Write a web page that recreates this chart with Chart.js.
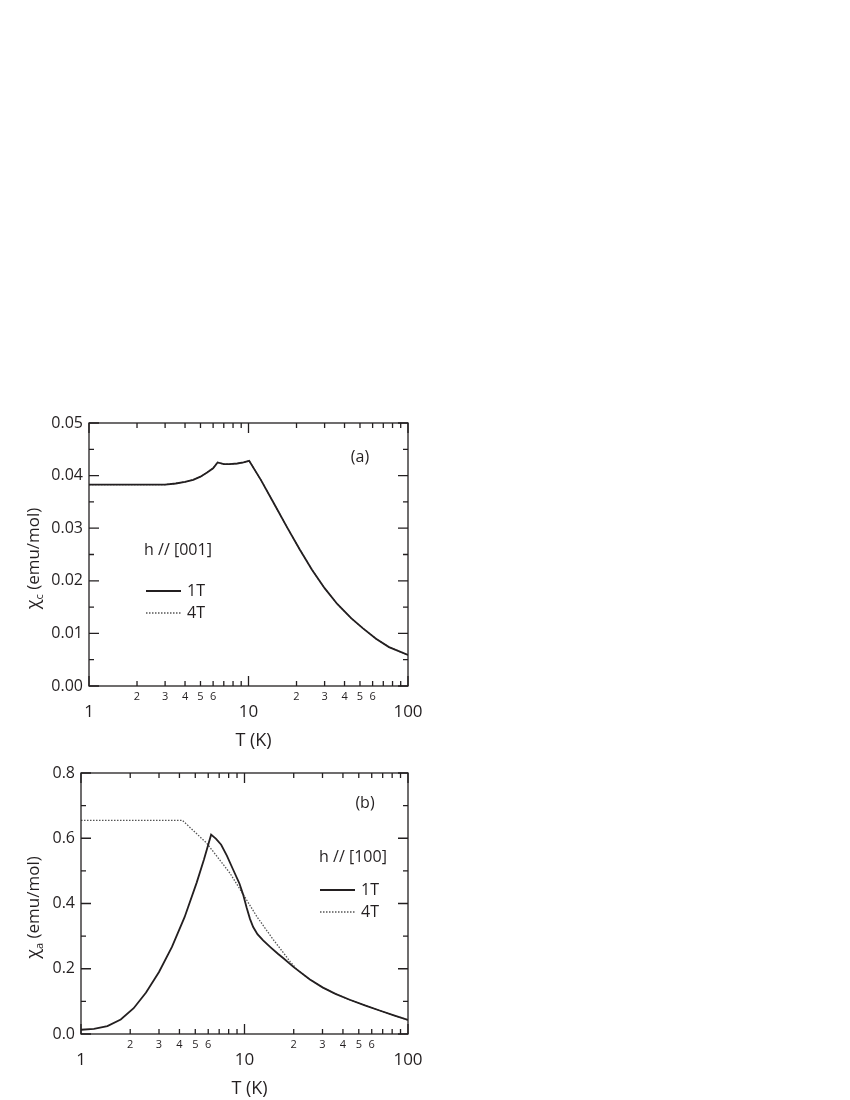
<!DOCTYPE html>
<html>
<head>
<meta charset="utf-8">
<title>chi vs T</title>
<script src="https://cdn.jsdelivr.net/npm/chart.js@4/dist/chart.umd.min.js"></script>
<style>
    body { margin: 0; background: #fff; }
    #wrap { position: relative; width: 850px; height: 1100px; }
    canvas { position: absolute; left: 0; }
    #chartA { top: 400px; }
    #chartB { top: 750px; }
</style>
</head>
<body>
<div id="wrap">
    <canvas id="chartA" width="450" height="350"></canvas>
    <canvas id="chartB" width="450" height="350"></canvas>
</div>
<script>
// panel (a), h // [001]
const tempA = [1, 3, 3.5, 4, 4.5, 5, 5.5, 6, 6.4, 7, 7.6, 8.5, 9.3, 10.1, 12, 14.5, 17.5, 21, 25, 30, 36, 44, 52, 63, 76, 100];
const chiA1T = [0.0383, 0.0383, 0.0385, 0.0388, 0.0392, 0.0398, 0.0406, 0.0414, 0.0425, 0.0422, 0.0422, 0.0423, 0.0425, 0.0428, 0.0391, 0.0346, 0.0301, 0.0259, 0.0221, 0.0186, 0.0156, 0.0129, 0.0110, 0.0090, 0.0074, 0.0059];
// 4T lies on top of 1T in (a)
const chiA4T = [0.0383, 0.0383, 0.0385, 0.0388, 0.0392, 0.0398, 0.0406, 0.0414, 0.0425, 0.0422, 0.0422, 0.0423, 0.0425, 0.0428, 0.0391, 0.0346, 0.0301, 0.0259, 0.0221, 0.0186, 0.0156, 0.0129, 0.0110, 0.0090, 0.0074, 0.0059];

// panel (b), h // [100]
const tempB1T = [1, 1.2, 1.45, 1.75, 2.1, 2.5, 3.0, 3.6, 4.3, 5.1, 5.65, 6.25, 6.7, 7.2, 7.8, 8.5, 9.3, 9.8, 10.3, 10.8, 11.3, 12, 13, 14.5, 16, 17.3, 20, 25, 30, 36, 44, 55, 67, 82, 100];
const chiB1T = [0.013, 0.0154, 0.0244, 0.0444, 0.079, 0.127, 0.190, 0.267, 0.358, 0.464, 0.535, 0.611, 0.598, 0.580, 0.547, 0.505, 0.462, 0.428, 0.388, 0.353, 0.328, 0.306, 0.287, 0.265, 0.246, 0.232, 0.205, 0.168, 0.143, 0.123, 0.105, 0.087, 0.072, 0.057, 0.043];
const tempB4T = [1, 4.17, 5.87, 8.15, 9.84, 11.9, 15.0, 17, 19, 21, 25, 30, 36, 44, 55, 67, 82, 100];
const chiB4T = [0.655, 0.655, 0.585, 0.493, 0.427, 0.360, 0.289, 0.254, 0.222, 0.197, 0.168, 0.143, 0.123, 0.105, 0.087, 0.072, 0.057, 0.043];

// ticks
const xMajorTicks = [1, 10, 100];
const xMajorLabels = ["1", "10", "100"];
const xMinorTicks = [2, 3, 4, 5, 6, 7, 8, 9, 20, 30, 40, 50, 60, 70, 80, 90];
const xMinorLabelTicks = [2, 3, 4, 5, 6, 20, 30, 40, 50, 60];
const xMinorLabels = ["2", "3", "4", "5", "6", "2", "3", "4", "5", "6"];

const yTicksA = [0, 0.01, 0.02, 0.03, 0.04, 0.05];
const yLabelsA = ["0.00", "0.01", "0.02", "0.03", "0.04", "0.05"];
const yMinorA = [0.005, 0.015, 0.025, 0.035, 0.045];
const yTicksB = [0, 0.2, 0.4, 0.6, 0.8];
const yLabelsB = ["0.0", "0.2", "0.4", "0.6", "0.8"];
const yMinorB = [0.1, 0.3, 0.5, 0.7];

const ink = "#231f20";
const font = (size) => size + "px 'Open Sans'";

const toPoints = (temps, values) => temps.map((t, i) => ({ x: t, y: values[i] }));

// frame, inward ticks, labels, titles and the little legend
const panelDecor = {
    id: "panelDecor",
    afterDatasetsDraw(chart, args, o) {
        const ctx = chart.ctx;
        const area = chart.chartArea;
        const x = chart.scales.x;
        const y = chart.scales.y;
        ctx.save();
        ctx.strokeStyle = ink;
        ctx.lineWidth = 1.3;
        ctx.strokeRect(area.left, area.top, area.right - area.left, area.bottom - area.top);

        ctx.beginPath();
        const xTick = (v, len) => {
            const px = x.getPixelForValue(v);
            ctx.moveTo(px, area.bottom);
            ctx.lineTo(px, area.bottom - len);
            ctx.moveTo(px, area.top);
            ctx.lineTo(px, area.top + len);
        };
        const yTick = (v, len) => {
            const py = y.getPixelForValue(v);
            ctx.moveTo(area.left, py);
            ctx.lineTo(area.left + len, py);
            ctx.moveTo(area.right, py);
            ctx.lineTo(area.right - len, py);
        };
        xMajorTicks.forEach((v) => xTick(v, 10));
        xMinorTicks.forEach((v) => xTick(v, 5));
        o.yTicks.forEach((v) => yTick(v, 10));
        o.yMinor.forEach((v) => yTick(v, 5));
        ctx.stroke();

        ctx.fillStyle = ink;
        // y tick labels
        ctx.font = font(16);
        ctx.textAlign = "right";
        ctx.textBaseline = "middle";
        o.yTicks.forEach((v, i) => {
            ctx.fillText(o.yLabels[i], area.left - 6, y.getPixelForValue(v));
        });
        // x tick labels
        ctx.textAlign = "center";
        ctx.font = font(11);
        xMinorLabelTicks.forEach((v, i) => {
            ctx.fillText(xMinorLabels[i], x.getPixelForValue(v), area.bottom + 11);
        });
        ctx.font = font(17);
        xMajorTicks.forEach((v, i) => {
            ctx.fillText(xMajorLabels[i], x.getPixelForValue(v), area.bottom + 26);
        });
        // x title
        ctx.font = font(18);
        ctx.fillText("T (K)", (area.left + area.right) / 2 + 5, area.bottom + 55);

        // y title, rotated, with subscript
        ctx.save();
        ctx.translate(o.yTitleX, (area.top + area.bottom) / 2 + 4);
        ctx.rotate(-Math.PI / 2);
        ctx.textAlign = "left";
        ctx.textBaseline = "alphabetic";
        ctx.font = font(18);
        const w1 = ctx.measureText("χ").width;
        ctx.font = font(11);
        const w2 = ctx.measureText(o.sub).width;
        ctx.font = font(17);
        const w3 = ctx.measureText(" (emu/mol)").width;
        const start = -(w1 + w2 + w3) / 2;
        ctx.font = font(18);
        ctx.fillText("χ", start, 5);
        ctx.font = font(11);
        ctx.fillText(o.sub, start + w1, 9);
        ctx.font = font(17);
        ctx.fillText(" (emu/mol)", start + w1 + w2, 5);
        ctx.restore();

        // panel tag
        ctx.font = font(16);
        ctx.textAlign = "center";
        ctx.textBaseline = "middle";
        ctx.fillText(o.tag, o.tagAt[0], o.tagAt[1]);

        // field direction + legend
        ctx.fillText(o.field, o.fieldAt[0], o.fieldAt[1]);
        const [lx, ly] = o.legendAt;
        ctx.textAlign = "left";
        ctx.fillText("1T", lx + 41, ly);
        ctx.fillText("4T", lx + 41, ly + 22);
        ctx.lineWidth = 1.8;
        ctx.beginPath();
        ctx.moveTo(lx, ly);
        ctx.lineTo(lx + 35, ly);
        ctx.stroke();
        ctx.strokeStyle = "#555";
        ctx.lineWidth = 1.3;
        ctx.setLineDash([1.5, 1.5]);
        ctx.beginPath();
        ctx.moveTo(lx, ly + 22);
        ctx.lineTo(lx + 35, ly + 22);
        ctx.stroke();
        ctx.restore();
    },
};

const makeGraph = (canvasId, datasets, yMax, pad, decor) => {
    const ctx = document.getElementById(canvasId).getContext("2d");
    return new Chart(ctx, {
        type: "line",
        data: { datasets: datasets },
        options: {
            responsive: false,
            animation: false,
            layout: { padding: pad },
            elements: { point: { radius: 0 }, line: { tension: 0 } },
            plugins: {
                legend: { display: false },
                tooltip: { enabled: false },
                panelDecor: decor,
            },
            scales: {
                x: { type: "logarithmic", min: 1, max: 100, display: false },
                y: { type: "linear", min: 0, max: yMax, display: false },
            },
        },
        plugins: [panelDecor],
    });
};

makeGraph(
    "chartA",
    [
        { label: "1T", data: toPoints(tempA, chiA1T), borderColor: ink, borderWidth: 1.8 },
        { label: "4T", data: toPoints(tempA, chiA4T), borderColor: "#555", borderWidth: 1.3, borderDash: [1.5, 1.5] },
    ],
    0.05,
    { left: 89, right: 42, top: 23, bottom: 64 },
    {
        yTicks: yTicksA, yLabels: yLabelsA, yMinor: yMinorA, sub: "c", yTitleX: 34,
        tag: "(a)", tagAt: [360, 57],
        field: "h // [001]", fieldAt: [178, 150],
        legendAt: [146, 191],
    }
);

makeGraph(
    "chartB",
    [
        { label: "1T", data: toPoints(tempB1T, chiB1T), borderColor: ink, borderWidth: 1.8 },
        { label: "4T", data: toPoints(tempB4T, chiB4T), borderColor: "#555", borderWidth: 1.3, borderDash: [1.5, 1.5] },
    ],
    0.8,
    { left: 81, right: 42, top: 23, bottom: 66 },
    {
        yTicks: yTicksB, yLabels: yLabelsB, yMinor: yMinorB, sub: "a", yTitleX: 34,
        tag: "(b)", tagAt: [365, 53],
        field: "h // [100]", fieldAt: [353, 107],
        legendAt: [320, 140],
    }
);
</script>
</body>
</html>
